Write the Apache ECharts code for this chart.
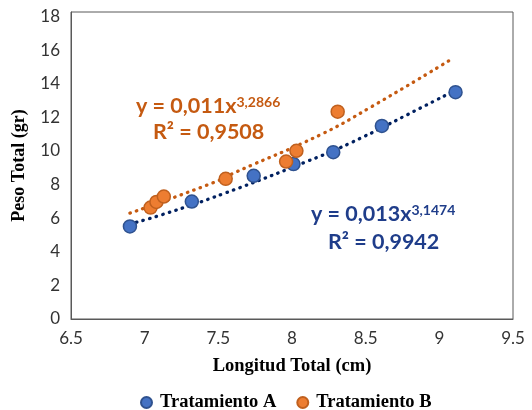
<!DOCTYPE html>
<html>
<head>
<meta charset="utf-8">
<script src="https://cdn.jsdelivr.net/npm/echarts@6/dist/echarts.min.js"></script>
<style>
html,body{margin:0;padding:0;background:#fff;}
#chart{width:532px;height:410px;}
</style>
</head>
<body>
<div id="chart"></div>
<script>
// Data
const xTicks = [6.5, 7, 7.5, 8, 8.5, 9, 9.5];
const yTicks = [0, 2, 4, 6, 8, 10, 12, 14, 16, 18];

const lenA = [6.90, 7.32, 7.74, 8.01, 8.28, 8.61, 9.11];
const pesoA = [5.51, 6.99, 8.52, 9.22, 9.93, 11.49, 13.50];

const lenB = [7.04, 7.08, 7.13, 7.55, 7.96, 8.03, 8.31];
const pesoB = [6.63, 6.97, 7.29, 8.34, 9.37, 10.01, 12.34];

// Trend lines
const trendAx = [6.90, 7.115, 7.545, 8.088, 8.393, 8.868, 9.11];
const trendAy = [5.66, 6.20, 7.49, 9.33, 10.46, 12.54, 13.62];
const trendBx = [6.90, 7.477, 7.624, 8.189, 8.529, 9.08];
const trendBy = [6.30, 8.15, 8.76, 10.95, 12.58, 15.45];

const seriesNames = ['Tratamiento A', 'Tratamiento B'];
const eqA = ['y = 0,013x', '3,1474', 'R² = 0,9942'];
const eqB = ['y = 0,011x', '3,2866', 'R² = 0,9508'];

const zip = (xs, ys) => xs.map((x, i) => [x, ys[i]]);

const chart = echarts.init(document.getElementById('chart'), null, {renderer: 'canvas'});

const eqFont = 'Lato, "Open Sans", sans-serif';
const serif = '"Liberation Serif", "DejaVu Serif", serif';
function eqText(lines, color, x1, y1, x2, y2) {
  return [
    {
      type: 'text', x: x1, y: y1, z: 100,
      style: {
        text: '{a|' + lines[0] + '}{s|' + lines[1] + '}',
        verticalAlign: 'middle', align: 'left',
        rich: {
          a: {fontSize: 21.5, fontWeight: 'bold', fontFamily: eqFont, fill: color, color: color},
          s: {fontSize: 14, fontWeight: 'bold', fontFamily: eqFont, fill: color, color: color, verticalAlign: 'top'}
        }
      }
    },
    {
      type: 'text', x: x2, y: y2, z: 100,
      style: {
        text: lines[2], fill: color, fontSize: 21.5, fontWeight: 'bold', fontFamily: eqFont,
        verticalAlign: 'middle', align: 'left'
      }
    }
  ];
}

const dotLine = (color) => ({color: color, width: 3.3, type: [0.5, 6.3], cap: 'round'});

const option = {
  backgroundColor: '#fff',
  animation: false,
  grid: {left: 71, right: 19, top: 12, bottom: 91, show: true, borderColor: '#595959', borderWidth: 1},
  xAxis: {
    type: 'value', min: xTicks[0], max: xTicks[xTicks.length - 1], interval: 0.5,
    splitLine: {show: false}, axisTick: {show: false},
    axisLine: {show: true, lineStyle: {color: '#595959'}},
    axisLabel: {fontSize: 17, color: '#333', margin: 11, fontFamily: eqFont,
      formatter: v => String(v)},
    name: 'Longitud Total (cm)', nameLocation: 'middle', nameGap: 38,
    nameTextStyle: {fontSize: 18.5, fontWeight: 'bold', color: '#000', fontFamily: serif}
  },
  yAxis: {
    type: 'value', min: yTicks[0], max: 18.27, interval: 2,
    splitLine: {show: false}, axisTick: {show: false},
    axisLine: {show: true, lineStyle: {color: '#595959'}},
    axisLabel: {fontSize: 17, color: '#333', margin: 11, fontFamily: eqFont, showMaxLabel: false,
      formatter: v => (yTicks.indexOf(v) >= 0 ? String(v) : '')},
    name: 'Peso Total (gr)', nameLocation: 'middle', nameGap: 43, nameRotate: 90,
    nameTextStyle: {fontSize: 18, fontWeight: 'bold', color: '#000', fontFamily: serif}
  },
  legend: {
    data: seriesNames, top: 388, left: 135, itemGap: 20,
    icon: 'circle', itemWidth: 11, itemHeight: 11,
    textStyle: {fontSize: 18.5, fontWeight: 'bold', color: '#000', fontFamily: serif, padding: [0, 0, 0, 3]}
  },
  series: [
    {type: 'line', name: 'trendA', data: zip(trendAx, trendAy), smooth: true, symbol: 'none',
      lineStyle: dotLine('#002060'), z: 2, silent: true},
    {type: 'line', name: 'trendB', data: zip(trendBx, trendBy), smooth: true, symbol: 'none',
      lineStyle: dotLine('#C55A11'), z: 2, silent: true},
    {type: 'scatter', name: seriesNames[0], data: zip(lenA, pesoA), symbolSize: 13, z: 5,
      itemStyle: {color: '#4472C4', borderColor: '#2F528F', borderWidth: 1.5, opacity: 1}},
    {type: 'scatter', name: seriesNames[1], data: zip(lenB, pesoB), symbolSize: 13, z: 5,
      itemStyle: {color: '#ED7D31', borderColor: '#C0601E', borderWidth: 1.5, opacity: 1}}
  ],
  graphic: [].concat(
    eqText(eqB, '#C55A11', 136, 106, 153, 132),
    eqText(eqA, '#1F3D8A', 311, 214, 328, 242)
  )
};
chart.setOption(option);
</script>
</body>
</html>
